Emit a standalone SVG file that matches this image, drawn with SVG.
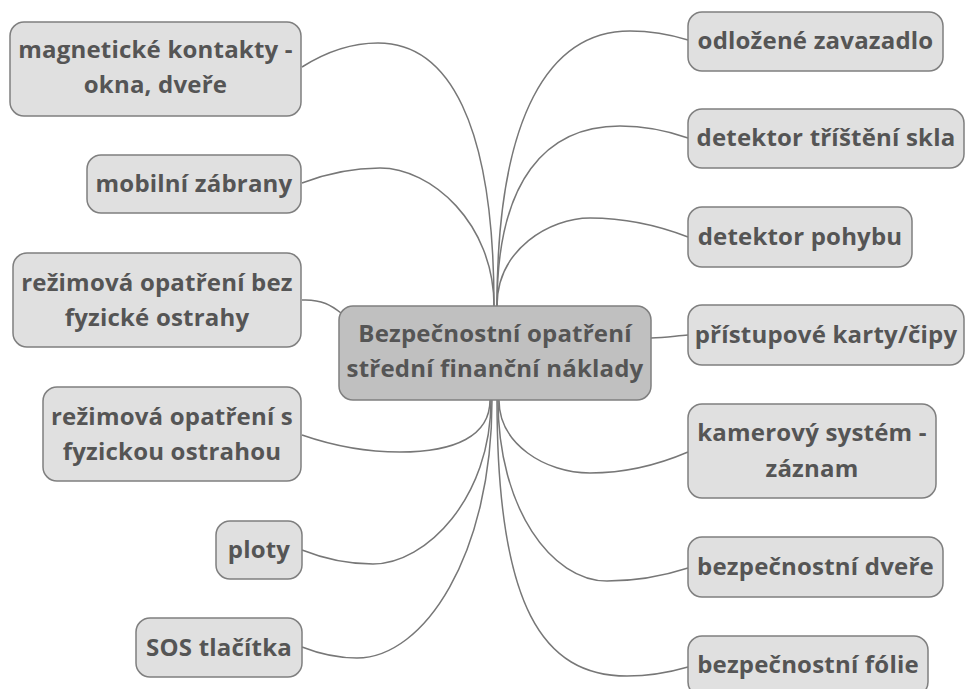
<svg xmlns="http://www.w3.org/2000/svg" width="965" height="689" viewBox="0 0 965 689">
<style>
.n rect{fill:#e0e0e0;stroke:#7f7f7f;stroke-width:1.5}
.c rect{fill:#c0c0c0;stroke:#7f7f7f;stroke-width:1.5}
text{font-family:"Open Sans","Noto Sans","DejaVu Sans",sans-serif;font-weight:700;font-size:24px;letter-spacing:0.2px;fill:#555;text-anchor:middle}
#edges path{fill:none;stroke:#777;stroke-width:1.5}
</style>
<rect width="965" height="689" fill="#fff"/>
<g id="edges">
<path d="M302,67 Q340,43 378,43 C448,43 494,122 494,306"/>
<path d="M302,183 Q341,168 380,168 C431,168 494,223 494,306"/>
<path d="M688,40 Q659,31 630,31 C550,31 497,114 497,306"/>
<path d="M688,138 Q654,126 620,126 C546,126 497,180 497,306"/>
<path d="M688,237 Q639,218 590,218 C550,218 497,249 497,306"/>
<path d="M302,300 C322,299 332,306 341,313"/>
<path d="M651,338 C665,338 675,336 688,335"/>
<path d="M302,435 Q351,452 400,452 C455,452 490,436 490,400"/>
<path d="M302,550 Q337,564 373,564 C426,564 491,498 491,400"/>
<path d="M302,647 Q330,658 357,658 C424,658 492,555 492,400"/>
<path d="M688,452 Q639,473 590,473 C545,473 499,444 499,400"/>
<path d="M688,568 Q648,581 607,581 C552,581 498,509 498,400"/>
<path d="M688,667 Q657,676 627,676 C543,676 497,607 497,400"/>
</g>
<g id="center" class="c"><rect x="339" y="306" width="312" height="94" rx="14"/><text x="495" y="342">Bezpečnostní opatření</text><text x="495" y="377">střední finanční náklady</text></g>
<g id="magneticke" class="n"><rect x="10" y="22" width="291" height="94" rx="14"/><text x="155.5" y="58">magnetické kontakty -</text><text x="155.5" y="93">okna, dveře</text></g>
<g id="mobilni" class="n"><rect x="87" y="155" width="214" height="58" rx="14"/><text x="194" y="192">mobilní zábrany</text></g>
<g id="rezim-bez" class="n"><rect x="13" y="253" width="288" height="94" rx="14"/><text x="157" y="291">režimová opatření bez</text><text x="157" y="326">fyzické ostrahy</text></g>
<g id="rezim-s" class="n"><rect x="43" y="387" width="258" height="94" rx="14"/><text x="172" y="425">režimová opatření s</text><text x="172" y="460">fyzickou ostrahou</text></g>
<g id="ploty" class="n"><rect x="216" y="521" width="86" height="58" rx="14"/><text x="259" y="558">ploty</text></g>
<g id="sos" class="n"><rect x="136" y="618" width="166" height="59" rx="14"/><text x="219" y="656">SOS tlačítka</text></g>
<g id="odlozene" class="n"><rect x="688" y="12" width="255" height="59" rx="14"/><text x="815.5" y="49">odložené zavazadlo</text></g>
<g id="tristeni" class="n"><rect x="688" y="109" width="276" height="59" rx="14"/><text x="826" y="146">detektor tříštění skla</text></g>
<g id="pohyb" class="n"><rect x="688" y="207" width="224" height="60" rx="14"/><text x="800" y="245">detektor pohybu</text></g>
<g id="karty" class="n"><rect x="688" y="305" width="276" height="60" rx="14"/><text x="826" y="343">přístupové karty/čipy</text></g>
<g id="kamery" class="n"><rect x="688" y="404" width="248" height="94" rx="14"/><text x="812" y="441">kamerový systém -</text><text x="812" y="477">záznam</text></g>
<g id="dvere" class="n"><rect x="688" y="537" width="255" height="60" rx="14"/><text x="815.5" y="575">bezpečnostní dveře</text></g>
<g id="folie" class="n"><rect x="688" y="636" width="240" height="60" rx="14"/><text x="808" y="673">bezpečnostní fólie</text></g>
</svg>
